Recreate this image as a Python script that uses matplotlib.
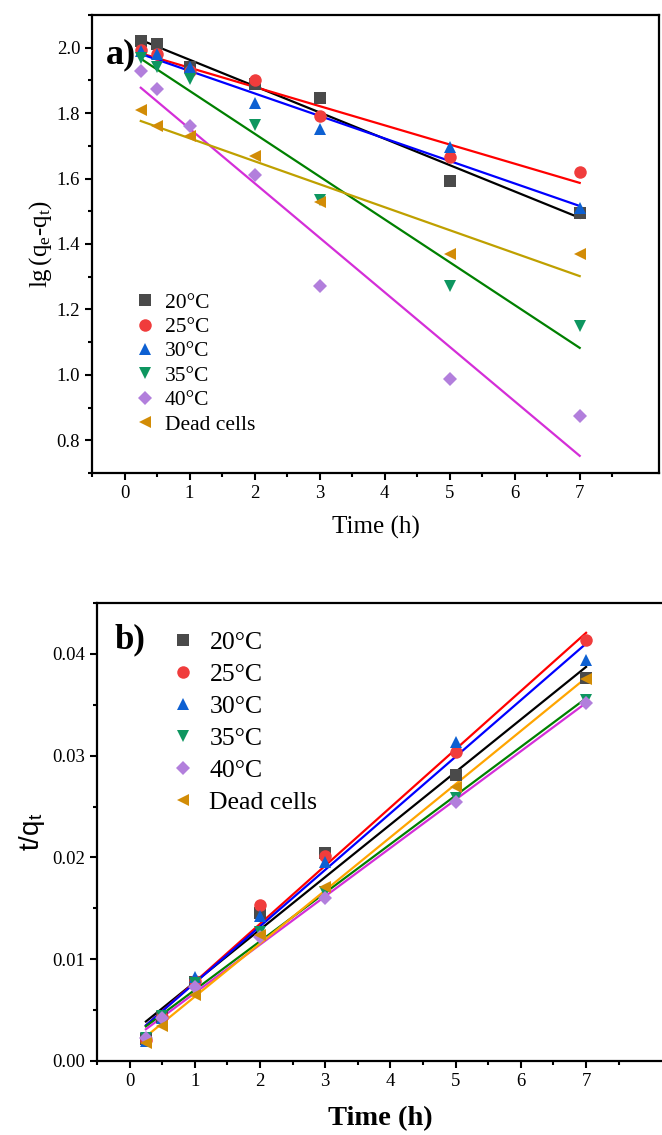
import numpy as np
from matplotlib import pyplot as plt
from matplotlib.ticker import MultipleLocator, FixedLocator

# Sampling times (h)
time_h = [0.25, 0.5, 1, 2, 3, 5, 7]
series_names = ['20\u00b0C', '25\u00b0C', '30\u00b0C', '35\u00b0C', '40\u00b0C', 'Dead cells']

# Pseudo-first-order: lg(qe - qt)
pfo_20 = [2.02, 2.01, 1.94, 1.89, 1.847, 1.593, 1.496]
pfo_25 = [1.994, 1.98, 1.93, 1.90, 1.79, 1.667, 1.621]
pfo_30 = [1.99, 1.98, 1.94, 1.83, 1.75, 1.695, 1.51]
pfo_35 = [1.97, 1.94, 1.905, 1.765, 1.535, 1.273, 1.15]
pfo_40 = [1.93, 1.875, 1.76, 1.612, 1.273, 0.986, 0.873]
pfo_dead = [1.81, 1.76, 1.73, 1.67, 1.527, 1.37, 1.37]

# Pseudo-second-order: t/qt
pso_20 = [0.0022, 0.0043, 0.0078, 0.0145, 0.0204, 0.0281, 0.0376]
pso_25 = [0.0021, 0.0043, 0.0079, 0.0153, 0.0201, 0.0304, 0.0414]
pso_30 = [0.0020, 0.0042, 0.0083, 0.0142, 0.0196, 0.0313, 0.0394]
pso_35 = [0.0023, 0.0044, 0.0077, 0.0127, 0.0166, 0.0258, 0.0355]
pso_40 = [0.0023, 0.0042, 0.0073, 0.0122, 0.0160, 0.0254, 0.0352]
pso_dead = [0.0018, 0.0034, 0.0065, 0.0124, 0.0171, 0.0269, 0.0375]

pfo_data = [pfo_20, pfo_25, pfo_30, pfo_35, pfo_40, pfo_dead]
pso_data = [pso_20, pso_25, pso_30, pso_35, pso_40, pso_dead]

x_ticks = [0, 1, 2, 3, 4, 5, 6, 7]

markers = ['s', 'o', '^', 'v', 'D', '<']
marker_sizes = [8, 9, 9, 9, 7, 9]
point_colors = ['#4a4a4a', '#f03c3c', '#0d60d2', '#0e9660', '#b27fdc', '#d28c06']
fit_colors_a = ['black', 'red', 'blue', 'green', '#d42ed8', '#bfa000']
fit_colors_b = ['black', 'red', 'blue', 'green', '#d42ed8', 'orange']

plt.rcParams['font.family'] = ['Liberation Serif', 'DejaVu Serif']
plt.rcParams['mathtext.fontset'] = 'custom'
plt.rcParams['mathtext.rm'] = 'Liberation Serif'
plt.rcParams['mathtext.it'] = 'Liberation Serif'
plt.rcParams['mathtext.bf'] = 'Liberation Serif:bold'

fig = plt.figure(figsize=(6.62, 11.35), dpi=100)
ax_a = fig.add_axes([0.139, 0.5833, 0.8565, 0.4035])
ax_b = fig.add_axes([0.1465, 0.0652, 0.857, 0.4035])


def style_axes(ax, label_size):
    for side in ['left', 'bottom', 'top', 'right']:
        ax.spines[side].set_linewidth(1.6)
    ax.tick_params(which='both', direction='out', width=1.5, labelsize=label_size,
                   top=False, right=False)
    ax.tick_params(which='major', length=5)
    ax.tick_params(which='minor', length=3)
    ax.xaxis.set_major_locator(FixedLocator(x_ticks))
    ax.xaxis.set_minor_locator(FixedLocator(np.arange(-0.5, 8.0, 0.5)))


def draw_panel(ax, data, fit_colors):
    t = np.array(time_h)
    for y, name, m, ms, pc, fc in zip(data, series_names, markers, marker_sizes,
                                      point_colors, fit_colors):
        slope, intercept = np.polyfit(t, y, 1)
        ax.plot(t, slope * t + intercept, color=fc, lw=1.6, zorder=2)
        ax.plot(t, y, linestyle='none', marker=m, ms=ms, color=pc,
                markeredgewidth=0, label=name, zorder=3)


# Panel a
style_axes(ax_a, 13.5)
draw_panel(ax_a, pfo_data, fit_colors_a)
ax_a.set_xlim(-0.5, 8.22)
ax_a.set_ylim(0.7, 2.1)
ax_a.yaxis.set_major_locator(MultipleLocator(0.2))
ax_a.yaxis.set_minor_locator(MultipleLocator(0.1))
ax_a.yaxis.set_major_formatter(plt.FormatStrFormatter('%.1f'))
ax_a.set_xlabel('Time (h)', fontsize=18, labelpad=10)
ax_a.set_ylabel(r'lg$\,$(q$_\mathregular{e}$-q$_\mathregular{t}$)', fontsize=18, labelpad=2)
ax_a.text(0.025, 0.95, 'a)', transform=ax_a.transAxes, fontsize=26,
          fontweight='bold', va='top', ha='left')
ax_a.legend(loc='lower left', bbox_to_anchor=(0.06, 0.065), frameon=False,
            fontsize=15.5, handletextpad=0.4, labelspacing=0.2, handlelength=1.0,
            borderaxespad=0)

# Panel b
style_axes(ax_b, 13.5)
draw_panel(ax_b, pso_data, fit_colors_b)
ax_b.set_xlim(-0.5, 8.2)
ax_b.set_ylim(0, 0.045)
ax_b.yaxis.set_major_locator(MultipleLocator(0.01))
ax_b.yaxis.set_minor_locator(MultipleLocator(0.005))
ax_b.yaxis.set_major_formatter(plt.FormatStrFormatter('%.2f'))
ax_b.set_xlabel('Time (h)', fontsize=20.5, fontweight='bold', labelpad=12)
ax_b.set_ylabel(r't/q$_\mathregular{t}$', fontsize=20, family='Liberation Sans', labelpad=4)
ax_b.text(0.03, 0.955, 'b)', transform=ax_b.transAxes, fontsize=25,
          fontweight='bold', va='top', ha='left')
ax_b.legend(loc='upper left', bbox_to_anchor=(0.11, 0.962), frameon=False,
            fontsize=18.5, handletextpad=0.55, labelspacing=0.35, handlelength=1.0,
            borderaxespad=0)

fig.savefig('out.png', dpi=100)
